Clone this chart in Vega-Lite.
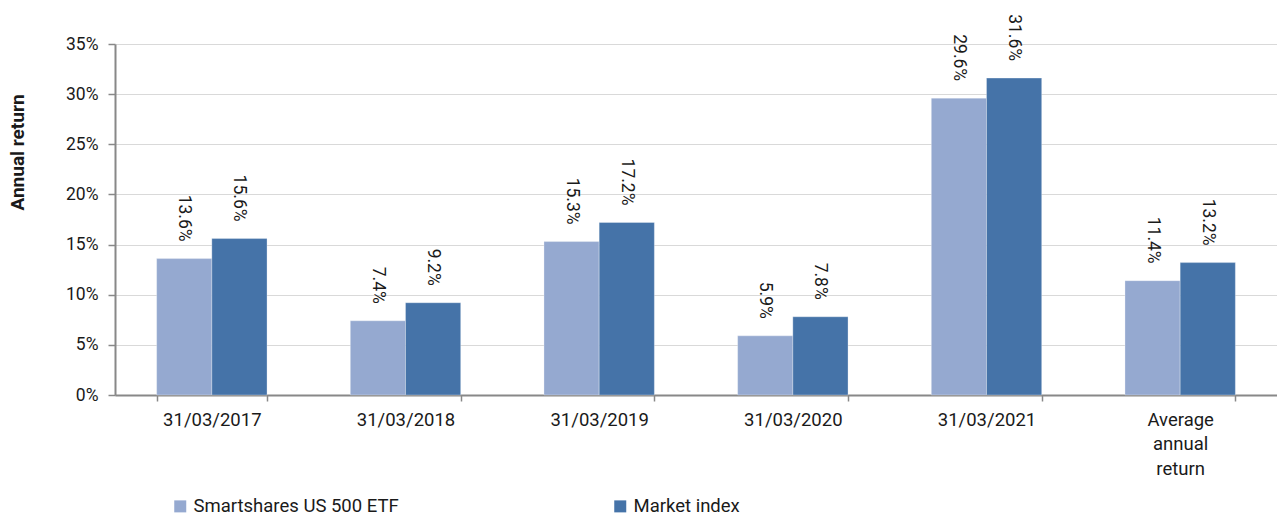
{
  "$schema": "https://vega.github.io/schema/vega-lite/v6.json",
  "width": 1162,
  "height": 351,
  "autosize": {"type": "none"},
  "padding": {"left": 115, "top": 44, "right": 0, "bottom": 124},
  "background": "white",
  "config": {
    "font": "Roboto",
    "view": {"stroke": null},
    "axis": {"labelFont": "Roboto", "titleFont": "Roboto", "labelColor": "#1a1a1a", "titleColor": "#1a1a1a"},
    "legend": {"labelFont": "Roboto"}
  },
  "data": {
    "values": [
      {"period": "31/03/2017", "series": "Smartshares US 500 ETF", "value": 0.136},
      {"period": "31/03/2017", "series": "Market index", "value": 0.156},
      {"period": "31/03/2018", "series": "Smartshares US 500 ETF", "value": 0.074},
      {"period": "31/03/2018", "series": "Market index", "value": 0.092},
      {"period": "31/03/2019", "series": "Smartshares US 500 ETF", "value": 0.153},
      {"period": "31/03/2019", "series": "Market index", "value": 0.172},
      {"period": "31/03/2020", "series": "Smartshares US 500 ETF", "value": 0.059},
      {"period": "31/03/2020", "series": "Market index", "value": 0.078},
      {"period": "31/03/2021", "series": "Smartshares US 500 ETF", "value": 0.296},
      {"period": "31/03/2021", "series": "Market index", "value": 0.316},
      {"period": "Average annual return", "series": "Smartshares US 500 ETF", "value": 0.114},
      {"period": "Average annual return", "series": "Market index", "value": 0.132}
    ]
  },
  "encoding": {
    "x": {
      "field": "period",
      "type": "nominal",
      "sort": null,
      "scale": {"paddingInner": 0.43, "paddingOuter": 0.215},
      "axis": {
        "title": null,
        "labelAngle": 0,
        "labelFontSize": 18.5,
        "labelPadding": 9,
        "labelLineHeight": 24.5,
        "labelExpr": "datum.value == 'Average annual return' ? ['Average', 'annual', 'return'] : datum.value",
        "tickBand": "extent",
        "tickSize": 6,
        "tickColor": "#888888",
        "tickWidth": 1.5,
        "domainColor": "#888888",
        "domainWidth": 2,
        "grid": false
      }
    },
    "xOffset": {"field": "series", "type": "nominal", "sort": ["Smartshares US 500 ETF", "Market index"], "scale": {"paddingInner": 0, "paddingOuter": 0}},
    "y": {
      "field": "value",
      "type": "quantitative",
      "scale": {"domain": [0, 0.35], "nice": false},
      "axis": {
        "title": "Annual return",
        "titleFontSize": 19,
        "titleFontWeight": "bold",
        "titleAngle": -90,
        "titleX": -98,
        "titleY": 108,
        "titleAlign": "center",
        "titleBaseline": "middle",
        "format": ".0%",
        "values": [0, 0.05, 0.1, 0.15, 0.2, 0.25, 0.3, 0.35],
        "labelFontSize": 17.5,
        "labelPadding": 10,
        "tickSize": 7,
        "tickColor": "#888888",
        "tickWidth": 1.5,
        "domainColor": "#888888",
        "domainWidth": 2,
        "gridColor": "#d9d9d9",
        "gridWidth": 1.2
      }
    }
  },
  "layer": [
    {
      "mark": {"type": "bar", "stroke": "white", "strokeWidth": 0.6, "strokeOpacity": 0.5},
      "encoding": {
        "color": {
          "field": "series",
          "type": "nominal",
          "sort": ["Smartshares US 500 ETF", "Market index"],
          "scale": {"domain": ["Smartshares US 500 ETF", "Market index"], "range": ["#95a9d0", "#4573a8"]},
          "legend": {
            "title": null,
            "orient": "none",
            "legendX": 56,
            "legendY": 453,
            "direction": "horizontal",
            "symbolType": "square",
            "symbolSize": 144,
            "symbolStrokeWidth": 0,
            "symbolOffset": 0,
            "labelFontSize": 18.5,
            "labelColor": "#1a1a1a",
            "labelOffset": 4,
            "columnPadding": 212,
            "labelLimit": 400
          }
        }
      }
    },
    {
      "mark": {"type": "text", "angle": 90, "align": "right", "baseline": "middle", "dx": -17, "fontSize": 17.5, "color": "#1a1a1a"},
      "encoding": {
        "text": {"field": "value", "type": "quantitative", "format": ".1%"}
      }
    }
  ]
}
